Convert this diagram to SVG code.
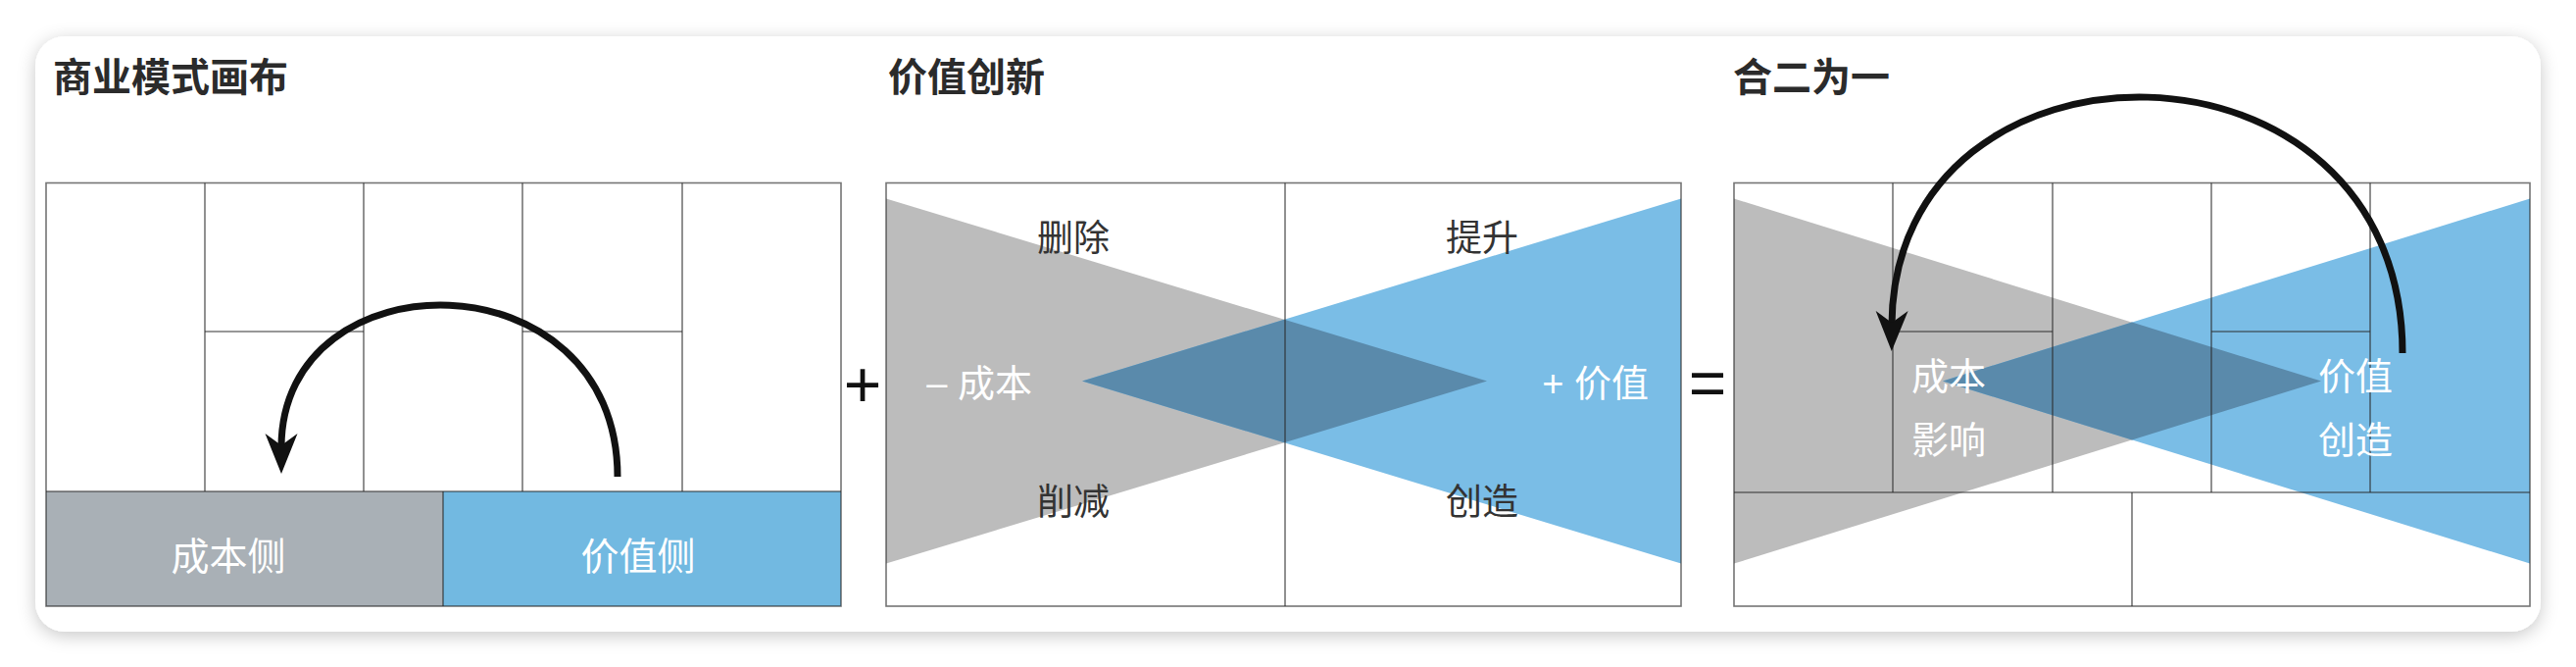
<svg xmlns="http://www.w3.org/2000/svg" width="2628" height="680" viewBox="0 0 2628 680">
<style>
.title{font-family:"Liberation Sans","Noto Sans CJK SC",sans-serif;font-size:40px;font-weight:bold;fill:#2b2b2b}
.lbl{font-family:"Liberation Sans","Noto Sans CJK SC",sans-serif;font-size:37px;fill:#333;text-anchor:middle}
.wlbl{font-family:"Liberation Sans","Noto Sans CJK SC",sans-serif;font-size:38px;fill:#fff;text-anchor:middle}
.op{font-family:"Liberation Sans",sans-serif;font-size:66px;fill:#111;text-anchor:middle}
.grid{fill:none;stroke:#2a2a2a;stroke-opacity:0.65;stroke-width:1.6}
.gtri{fill:#bcbcbc}
.btri{fill:#7abde6}
.dia{fill:#5a8aab}
.arc{fill:none;stroke:#111;stroke-width:7;marker-end:url(#ah)}
</style>
<defs>
<filter id="sh" x="-5%" y="-20%" width="110%" height="140%">
<feDropShadow dx="0" dy="4" stdDeviation="9" flood-color="#000" flood-opacity="0.22"/>
</filter>
<marker id="ah" markerUnits="userSpaceOnUse" markerWidth="50" markerHeight="40" viewBox="0 -20 50 40" refX="14" refY="0" orient="auto">
<path d="M0,-16.5 L41,0 L0,16.5 L12,0 Z" fill="#111"/>
</marker>
</defs>
<rect width="2628" height="680" fill="#ffffff"/>
<rect id="card" x="36" y="37" width="2556" height="607" rx="30" fill="#fff" filter="url(#sh)"/>

<g id="panel-bmc">
<text class="title" x="54" y="93">商业模式画布</text>
<rect x="47" y="501" width="405" height="117" fill="#a9b0b6"/>
<rect x="452" y="501" width="406" height="117" fill="#72b9e1"/>
<g class="grid">
<rect x="47" y="186.5" width="811" height="431.5"/>
<line x1="209" y1="186.5" x2="209" y2="501"/>
<line x1="371" y1="186.5" x2="371" y2="501"/>
<line x1="533" y1="186.5" x2="533" y2="501"/>
<line x1="696" y1="186.5" x2="696" y2="501"/>
<line x1="209" y1="338" x2="371" y2="338"/>
<line x1="533" y1="338" x2="696" y2="338"/>
<line x1="47" y1="501" x2="858" y2="501"/>
<line x1="452" y1="501" x2="452" y2="618"/>
</g>
<text class="wlbl" x="233" y="581" style="font-size:39px">成本侧</text>
<text class="wlbl" x="651" y="581" style="font-size:39px">价值侧</text>
</g>

<g id="plus"><text class="op" x="880" y="415">+</text></g>

<g id="panel-vi">
<text class="title" x="906" y="93">价值创新</text>
<polygon class="gtri" points="904,202.5 904,574.6 1517,388.5"/>
<polygon class="btri" points="1715,202.5 1715,574.6 1104,388.5"/>
<polygon class="dia" points="1104,388.5 1310.2,325.7 1517,388.5 1310.2,451.3"/>
<g class="grid">
<rect x="904" y="186.5" width="811" height="431.5"/>
<line x1="1311" y1="186.5" x2="1311" y2="618"/>
</g>
<text class="lbl" x="1095" y="256">删除</text>
<text class="lbl" x="1512" y="256">提升</text>
<text class="lbl" x="1095" y="525">削减</text>
<text class="lbl" x="1512" y="525">创造</text>
<text class="wlbl" x="1053" y="404" style="text-anchor:end">– 成本</text>
<text class="wlbl" x="1682" y="404" style="text-anchor:end">+ 价值</text>
</g>

<g id="equals"><text class="op" x="1742" y="413">=</text></g>

<g id="panel-merge">
<text class="title" x="1768" y="93">合二为一</text>
<polygon class="gtri" points="1769,202.5 1769,574.6 2368,388.5"/>
<polygon class="btri" points="2581,202.5 2581,574.6 1982,388.5"/>
<polygon class="dia" points="1982,388.5 2175,328.6 2368,388.5 2175,448.4"/>
<g class="grid">
<rect x="1769" y="186.5" width="812" height="431.5"/>
<line x1="1931" y1="186.5" x2="1931" y2="502"/>
<line x1="2094" y1="186.5" x2="2094" y2="502"/>
<line x1="2256" y1="186.5" x2="2256" y2="502"/>
<line x1="2418" y1="186.5" x2="2418" y2="502"/>
<line x1="1931" y1="338" x2="2094" y2="338"/>
<line x1="2256" y1="338" x2="2418" y2="338"/>
<line x1="1769" y1="502" x2="2581" y2="502"/>
<line x1="2175" y1="502" x2="2175" y2="618"/>
</g>
<text class="wlbl" x="1988" y="397">成本</text>
<text class="wlbl" x="1988" y="462">影响</text>
<text class="wlbl" x="2403" y="397">价值</text>
<text class="wlbl" x="2403" y="462">创造</text>
</g>

<g id="connectors">
<path class="arc" d="M630,486 C630,258 287,258 287,456"/>
<path class="arc" d="M2451,360 C2451,17 1932,17 1930,331"/>
</g>
</svg>
